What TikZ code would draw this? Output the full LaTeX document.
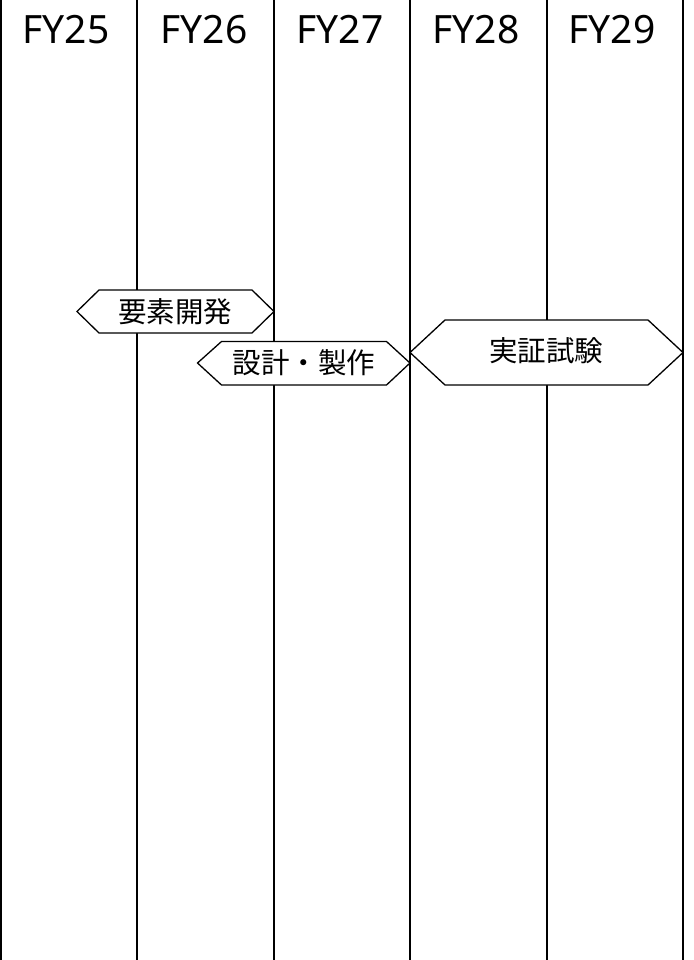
\documentclass[tikz,border=0pt]{standalone}
\usepackage{fontspec}
\setmainfont{Noto Sans}
\newfontfamily\cjk{Noto Sans CJK JP}
\begin{document}
\begin{tikzpicture}[x=1pt,y=-1pt,
  colline/.style={line width=2pt,black},
  yearlabel/.style={anchor=base,inner sep=0pt,font=\fontsize{39}{39}\selectfont},
  hexshape/.style={draw=black,fill=white,line width=1.3pt,line join=miter},
  hextext/.style={inner sep=0pt,font=\cjk\fontsize{28.5}{28.5}\selectfont}]
\useasboundingbox (0,0) rectangle (693,960);
% column boundaries
\foreach \n/\x in {a/1,b/137,c/274,d/410,e/547,f/683}{
  \coordinate (\n top) at (\x,0);
  \coordinate (\n bot) at (\x,960);
  \draw[colline] (\n top) -- (\n bot);
}
% year labels
\node[yearlabel] (fy25) at (66,43.5) {FY25};
\node[yearlabel] (fy26) at (204,43.5) {FY26};
\node[yearlabel] (fy27) at (340,43.5) {FY27};
\node[yearlabel] (fy28) at (476,43.5) {FY28};
\node[yearlabel] (fy29) at (612,43.5) {FY29};
% hexagon 1
\draw[hexshape] (77,311.5) -- (99,290) -- (252,290) -- (274,311.5) -- (252,333) -- (99,333) -- cycle;
\node[hextext] (h1) at (175,311.5) {要素開発};
% hexagon 2
\draw[hexshape] (197.5,363) -- (221.5,341.5) -- (386.5,341.5) -- (410,363) -- (386.5,385) -- (221.5,385) -- cycle;
\node[hextext] (h2) at (304,363) {設計・製作};
% hexagon 3
\draw[hexshape] (410,352.5) -- (445,320) -- (648,320) -- (683,352.5) -- (648,385) -- (445,385) -- cycle;
\node[hextext] (h3) at (546,351) {実証試験};
\end{tikzpicture}
\end{document}
